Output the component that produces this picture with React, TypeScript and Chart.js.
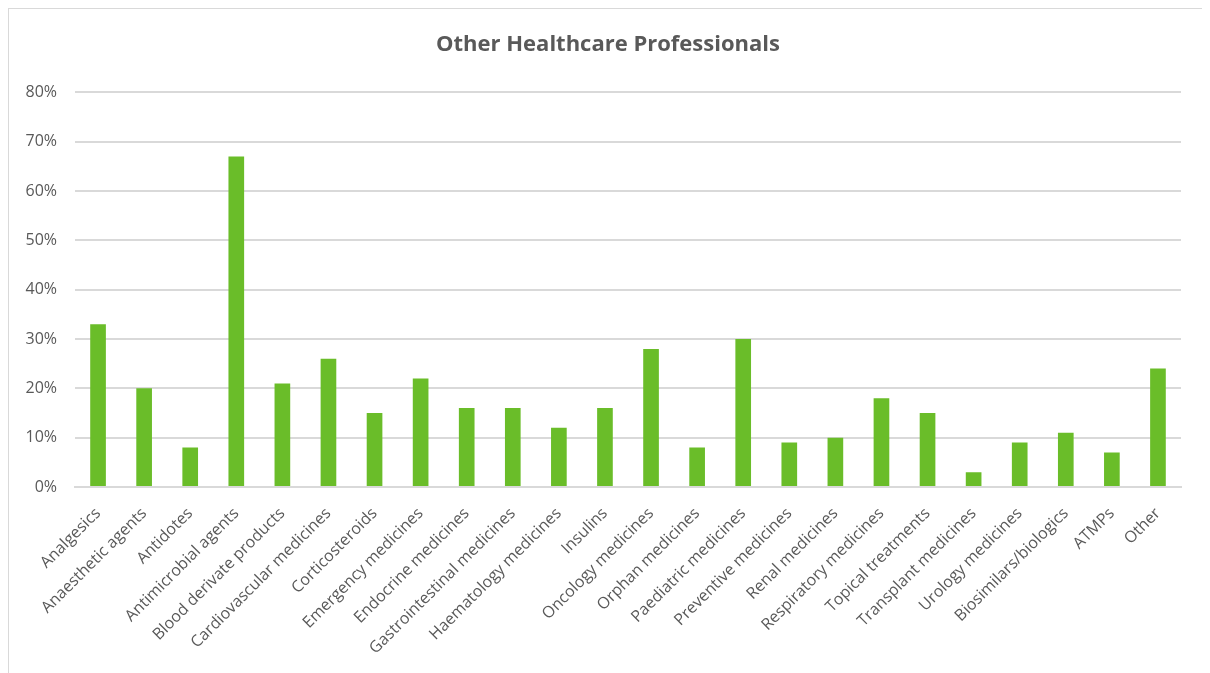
import React, { useEffect, useRef } from "react";
import { Chart, registerables } from "chart.js";

Chart.register(...registerables);

const categories: string[] = [
  "Analgesics",
  "Anaesthetic agents",
  "Antidotes",
  "Antimicrobial agents",
  "Blood derivate products",
  "Cardiovascular medicines",
  "Corticosteroids",
  "Emergency medicines",
  "Endocrine medicines",
  "Gastrointestinal medicines",
  "Haematology medicines",
  "Insulins",
  "Oncology medicines",
  "Orphan medicines",
  "Paediatric medicines",
  "Preventive medicines",
  "Renal medicines",
  "Respiratory medicines",
  "Topical treatments",
  "Transplant medicines",
  "Urology medicines",
  "Biosimilars/biologics",
  "ATMPs",
  "Other",
];

const values: number[] = [33, 20, 8, 67, 21, 26, 15, 22, 16, 16, 12, 16, 28, 8, 30, 9, 10, 18, 15, 3, 9, 11, 7, 24];

const yTicks: number[] = [0, 10, 20, 30, 40, 50, 60, 70, 80];

const titleText = "Other Healthcare Professionals";

const frameBorder = {
  id: "frameBorder",
  beforeDraw(chart: any) {
    const { ctx, width, height } = chart;
    ctx.save();
    ctx.fillStyle = "#ffffff";
    ctx.fillRect(0, 0, width, height);
    ctx.strokeStyle = "#d9d9d9";
    ctx.lineWidth = 2;
    ctx.strokeRect(1, 1, width - 2, height + 10);
    ctx.restore();
  },
};

export default function App() {
  const ref = useRef<HTMLCanvasElement | null>(null);

  useEffect(() => {
    if (!ref.current) return;
    const chart = new Chart(ref.current, {
      type: "bar",
      plugins: [frameBorder],
      data: {
        labels: categories,
        datasets: [
          {
            data: values,
            backgroundColor: "#6abd29",
            borderWidth: 0,
            barPercentage: 0.34,
            categoryPercentage: 1,
          },
        ],
      },
      options: {
        animation: false,
        responsive: false,
        maintainAspectRatio: false,
        layout: { padding: { left: 0, right: 0, top: 25, bottom: 0 } },
        plugins: {
          legend: { display: false },
          tooltip: { enabled: false },
          title: {
            display: true,
            text: titleText,
            color: "#595959",
            font: { family: "'Open Sans'", size: 22, weight: "bold" },
            padding: { top: 0, bottom: 34 },
          },
        },
        scales: {
          x: {
            grid: { display: false, drawTicks: false },
            border: { display: true, color: "#d9d9d9", width: 2 },
            ticks: {
              color: "#595959",
              font: { family: "'Open Sans'", size: 16 },
              maxRotation: 45,
              minRotation: 45,
              autoSkip: false,
              padding: 17,
            },
            afterFit: (scale: any) => {
              scale.height = 201;
            },
          },
          y: {
            min: 0,
            max: 80,
            afterBuildTicks: (scale: any) => {
              scale.ticks = yTicks.map((v) => ({ value: v }));
            },
            grid: { color: "#d9d9d9", lineWidth: 2, drawTicks: false },
            border: { display: false },
            ticks: {
              color: "#595959",
              font: { family: "'Open Sans'", size: 16 },
              padding: 18,
              callback: (v: any) => v + "%",
            },
            afterFit: (scale: any) => {
              scale.width = 68;
            },
          },
          yRight: {
            position: "right",
            min: 0,
            max: 80,
            grid: { display: false, drawTicks: false },
            border: { display: false },
            ticks: { display: false },
            afterFit: (scale: any) => {
              scale.width = 28;
            },
          },
        },
      },
    });
    return () => chart.destroy();
  }, []);

  return (
    <div style={{ width: 1202, height: 681, marginLeft: -1, marginTop: -1 }}>
      <canvas ref={ref} width={1202} height={681} style={{ display: "block" }} />
    </div>
  );
}
